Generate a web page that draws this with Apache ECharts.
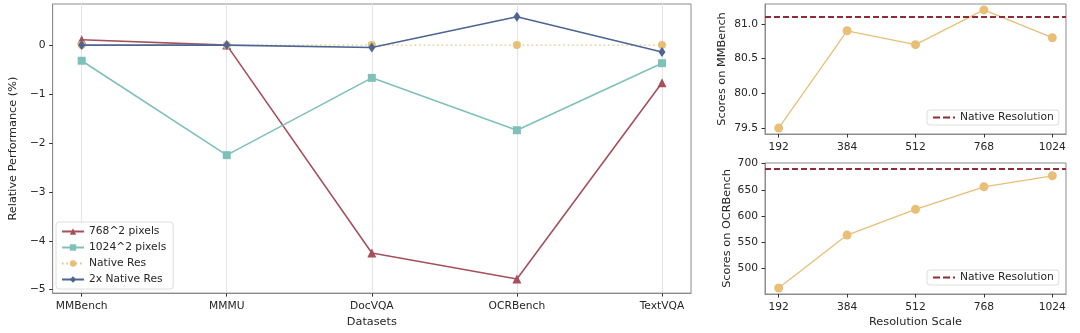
<!DOCTYPE html>
<html>
<head>
<meta charset="utf-8">
<script src="https://cdn.jsdelivr.net/npm/echarts@6/dist/echarts.min.js"></script>
<style>
  html, body { margin: 0; padding: 0; background: #ffffff; }
  #chart { width: 1080px; height: 333px; }
</style>
</head>
<body>
<div id="chart"></div>
<script>
// Relative performance per dataset for each input-resolution setting
const datasets = ['MMBench', 'MMMU', 'DocVQA', 'OCRBench', 'TextVQA'];
const px768 = [0.11, 0.0, -4.25, -4.78, -0.77];
const px1024 = [-0.32, -2.25, -0.67, -1.74, -0.37];
const nativeRes = [0, 0, 0, 0, 0];
const native2x = [0.0, 0.0, -0.05, 0.58, -0.14];
const relTicks = [-5, -4, -3, -2, -1, 0];

// Absolute scores versus resolution scale
const resolutions = ['192', '384', '512', '768', '1024'];
const mmbScores = [79.5, 80.9, 80.7, 81.2, 80.8];
const mmbNative = 81.1;
const mmbTicks = [79.5, 80.0, 80.5, 81.0];
const ocrScores = [463, 564, 613, 656, 677];
const ocrNative = 690;
const ocrTicks = [500, 550, 600, 650, 700];

const FONT = 'DejaVu Sans';
const FS = 10.7;
const FS_TITLE = 11.3;
const TXT = '#262626';
const SPINE = '#8c8c8c';

const C768 = '#a6505b';
const C1024 = '#7fc1b8';
const CNAT = '#e9bf78';
const C2X = '#4d6593';
const CDASH = '#8e2d37';

// dashed-line legend glyph ("– – ·")
const DASH_ICON = 'path://M0,0 L7,0 L7,2 L0,2 Z M10,0 L17,0 L17,2 L10,2 Z M20,0 L22,0 L22,2 L20,2 Z';

const pairs = arr => arr.map((v, i) => [i, v]);
const uminus = v => (v < 0 ? '\u2212' + Math.abs(v) : String(v));

function xAxisFor(gridIndex, names, title, showGrid) {
  return {
    type: 'value', gridIndex, min: -0.2, max: 4.2,
    axisLine: { show: true, onZero: false, lineStyle: { color: SPINE, width: 1 } },
    axisTick: { show: true, length: 3.5, customValues: [0, 1, 2, 3, 4], lineStyle: { color: '#333' } },
    axisLabel: { customValues: [0, 1, 2, 3, 4], formatter: v => names[Math.round(v)], color: TXT, fontFamily: FONT, fontSize: FS, margin: 8 },
    splitLine: { show: showGrid, lineStyle: { color: '#e4e4e4', width: 1 } },
    name: title, nameLocation: 'middle', nameGap: 23,
    nameTextStyle: { color: TXT, fontFamily: FONT, fontSize: FS_TITLE }
  };
}

function yAxisFor(gridIndex, min, max, ticks, fmt, title, gap) {
  return {
    type: 'value', gridIndex, min, max,
    axisLine: { show: true, onZero: false, lineStyle: { color: SPINE, width: 1 } },
    axisTick: { show: true, length: 3.5, customValues: ticks, lineStyle: { color: '#333' } },
    axisLabel: { customValues: ticks, formatter: fmt, color: TXT, fontFamily: FONT, fontSize: FS, margin: 7 },
    splitLine: { show: false },
    name: title, nameLocation: 'middle', nameGap: gap, nameRotate: 90,
    nameTextStyle: { color: TXT, fontFamily: FONT, fontSize: FS_TITLE }
  };
}

const legendBox = {
  backgroundColor: 'rgba(255,255,255,0.85)',
  borderColor: '#dedede', borderWidth: 1, borderRadius: 3,
  textStyle: { color: TXT, fontFamily: FONT, fontSize: FS }
};

const chart = echarts.init(document.getElementById('chart'), null, { renderer: 'canvas' });

chart.setOption({
  animation: false,
  backgroundColor: '#ffffff',
  grid: [
    { left: 52, top: 4, width: 639, height: 290, show: true, borderColor: SPINE, borderWidth: 1 },
    { left: 765, top: 4, width: 301, height: 130, show: true, borderColor: SPINE, borderWidth: 1 },
    { left: 765, top: 163, width: 301, height: 131, show: true, borderColor: SPINE, borderWidth: 1 }
  ],
  xAxis: [
    xAxisFor(0, datasets, 'Datasets', true),
    xAxisFor(1, resolutions, '', false),
    xAxisFor(2, resolutions, 'Resolution Scale', false)
  ],
  yAxis: [
    yAxisFor(0, -5.07, 0.84, relTicks, uminus, 'Relative Performance (%)', 26),
    yAxisFor(1, 79.415, 81.285, mmbTicks, v => v.toFixed(1), 'Scores on MMBench', 37),
    yAxisFor(2, 451.65, 701.35, ocrTicks, v => String(v), 'Scores on OCRBench', 32)
  ],
  legend: [
    Object.assign({
      data: ['768^2 pixels', '1024^2 pixels', 'Native Res', '2x Native Res'],
      orient: 'vertical', left: 56, top: 222,
      itemWidth: 22, itemHeight: 8, itemGap: 5, padding: [4, 7, 4, 5]
    }, legendBox),
    Object.assign({
      data: [{ name: 'Native Resolution', icon: DASH_ICON }], left: 927, top: 110,
      itemWidth: 22, itemHeight: 2, padding: [2, 5, 2, 6]
    }, legendBox),
    Object.assign({
      data: [{ name: 'Native Resolution', icon: DASH_ICON }], left: 927, top: 270,
      itemWidth: 22, itemHeight: 2, padding: [2, 5, 2, 6]
    }, legendBox)
  ],
  series: [
    {
      name: '768^2 pixels', type: 'line', xAxisIndex: 0, yAxisIndex: 0,
      data: pairs(px768), symbol: 'triangle', symbolSize: 9,
      lineStyle: { color: C768, width: 1.6 }, itemStyle: { color: C768 }, z: 2
    },
    {
      name: '1024^2 pixels', type: 'line', xAxisIndex: 0, yAxisIndex: 0,
      data: pairs(px1024), symbol: 'rect', symbolSize: 8,
      lineStyle: { color: C1024, width: 1.6 }, itemStyle: { color: C1024 }, z: 3
    },
    {
      name: 'Native Res', type: 'line', xAxisIndex: 0, yAxisIndex: 0,
      data: pairs(nativeRes), symbol: 'circle', symbolSize: 8,
      lineStyle: { color: CNAT, width: 1.3, type: [1.5, 3] }, itemStyle: { color: CNAT }, z: 4
    },
    {
      name: '2x Native Res', type: 'line', xAxisIndex: 0, yAxisIndex: 0,
      data: pairs(native2x), symbol: 'diamond', symbolSize: [7, 10],
      lineStyle: { color: C2X, width: 1.6 }, itemStyle: { color: C2X }, z: 5
    },
    {
      name: 'MMBench score', type: 'line', xAxisIndex: 1, yAxisIndex: 1,
      data: pairs(mmbScores), symbol: 'circle', symbolSize: 9,
      lineStyle: { color: CNAT, width: 1.3 }, itemStyle: { color: CNAT }, z: 3
    },
    {
      name: 'Native Resolution', type: 'line', xAxisIndex: 1, yAxisIndex: 1,
      data: [], symbol: 'none',
      lineStyle: { color: CDASH, width: 2, type: [6, 3] }, itemStyle: { color: CDASH },
      markLine: {
        silent: true, symbol: 'none', label: { show: false },
        lineStyle: { color: CDASH, width: 2, type: [6, 3] },
        data: [{ yAxis: mmbNative }]
      }, z: 4
    },
    {
      name: 'OCRBench score', type: 'line', xAxisIndex: 2, yAxisIndex: 2,
      data: pairs(ocrScores), symbol: 'circle', symbolSize: 9,
      lineStyle: { color: CNAT, width: 1.3 }, itemStyle: { color: CNAT }, z: 3
    },
    {
      name: 'Native Resolution', type: 'line', xAxisIndex: 2, yAxisIndex: 2,
      data: [], symbol: 'none',
      lineStyle: { color: CDASH, width: 2, type: [6, 3] }, itemStyle: { color: CDASH },
      markLine: {
        silent: true, symbol: 'none', label: { show: false },
        lineStyle: { color: CDASH, width: 2, type: [6, 3] },
        data: [{ yAxis: ocrNative }]
      }, z: 4
    }
  ]
});
</script>
</body>
</html>
